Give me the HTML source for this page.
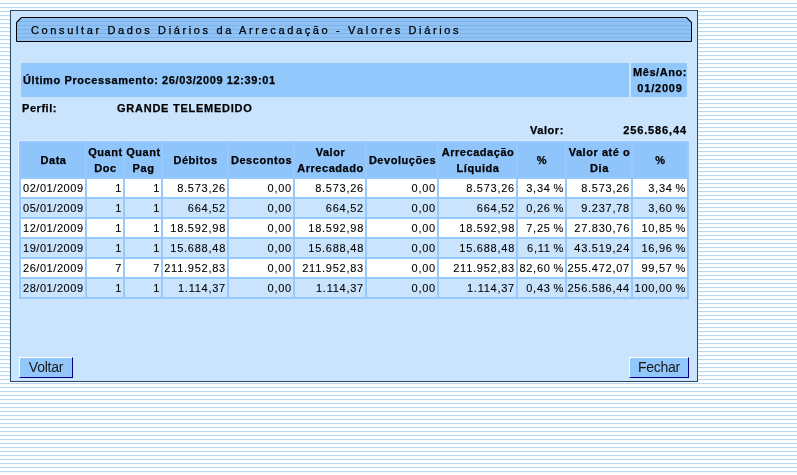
<!DOCTYPE html><html><head><meta charset="utf-8"><style>
*{margin:0;padding:0;box-sizing:border-box}
html,body{width:797px;height:475px;overflow:hidden}
body{position:relative;font-family:"Liberation Sans",sans-serif;font-size:11px;letter-spacing:0.75px;color:#000;
background:repeating-linear-gradient(to bottom,#f3f8fc 0,#f3f8fc 1px,#fff 1px,#fff 3px,#b6d8f0 3px,#b6d8f0 4px)}
#w{position:absolute;left:0;top:0;width:797px;height:475px;will-change:transform;-webkit-text-stroke:0.1px #000}
.a{position:absolute}
.t{position:absolute;white-space:nowrap;line-height:16px}
.b{font-weight:bold;letter-spacing:0.55px;-webkit-text-stroke:0.25px #000}
.c{position:absolute;overflow:hidden;white-space:nowrap;line-height:16px}
.r{text-align:right}
.m{text-align:center}

</style></head><body><div id="w">
<div class="a" style="left:10px;top:10px;width:688px;height:372px;background:#cae4fe;border:1px solid #2d4862"></div>
<svg class="a" style="left:15px;top:16px" width="678" height="27" viewBox="-1 -1 678 27">
<defs><pattern id="st" width="8" height="4" patternUnits="userSpaceOnUse"><rect width="8" height="4" fill="#8fc3f7"/><rect width="8" height="1" fill="#7fb1e3"/></pattern></defs>
<polygon points="0.5,5.5 5.5,0.5 670.5,0.5 675.5,5.5 675.5,24.5 0.5,24.5" fill="url(#st)" stroke="#000" stroke-width="1"/>
<path d="M0.6,5.4 L5.4,0.6 M670.6,0.6 L675.4,5.4" stroke="#000" stroke-width="1.3" fill="none"/>
</svg>
<div class="t" style="left:31px;top:25px;font-size:11px;line-height:11px;letter-spacing:2.63px;-webkit-text-stroke:0.25px #000">Consultar Dados Diários da Arrecadação - Valores Diários</div>
<div class="a" style="left:21px;top:63px;width:608px;height:34px;background:#92c7fc"></div>
<div class="a" style="left:631px;top:63px;width:56px;height:34px;background:#92c7fc"></div>
<div class="t b" style="left:23px;top:72px;letter-spacing:0.6px">Último Processamento: 26/03/2009 12:39:01</div>
<div class="t b m" style="left:632px;top:64px;width:56px">Mês/Ano:<br><span style="letter-spacing:0.8px">01/2009</span></div>
<div class="t b" style="left:22px;top:100px">Perfil:</div>
<div class="t b" style="left:117px;top:100px;letter-spacing:0.75px">GRANDE TELEMEDIDO</div>
<div class="t b" style="left:530px;top:122px">Valor:</div>
<div class="t b r" style="left:600px;top:122px;width:87px;letter-spacing:0.88px">256.586,44</div>
<div class="a" style="left:18px;top:140px;width:671px;height:159px;background:#d8ecff"></div>
<div class="a" style="left:19px;top:141px;width:670px;height:158px;background:#96cafe"></div>
<div class="c b m" style="left:21px;top:143px;width:64px;height:34px;background:#90c5fb;display:flex;align-items:center;justify-content:center;padding-left:1px"><div>Data</div></div>
<div class="c b m" style="left:87px;top:143px;width:36px;height:34px;background:#90c5fb;display:flex;align-items:center;justify-content:center;padding-left:1px"><div>Quant<br>Doc</div></div>
<div class="c b m" style="left:125px;top:143px;width:36px;height:34px;background:#90c5fb;display:flex;align-items:center;justify-content:center;padding-left:1px"><div>Quant<br>Pag</div></div>
<div class="c b m" style="left:163px;top:143px;width:64px;height:34px;background:#90c5fb;display:flex;align-items:center;justify-content:center;padding-left:1px"><div>Débitos</div></div>
<div class="c b m" style="left:229px;top:143px;width:64px;height:34px;background:#90c5fb;display:flex;align-items:center;justify-content:center;padding-left:1px"><div>Descontos</div></div>
<div class="c b m" style="left:295px;top:143px;width:70px;height:34px;background:#90c5fb;display:flex;align-items:center;justify-content:center;padding-left:1px"><div>Valor<br>Arrecadado</div></div>
<div class="c b m" style="left:367px;top:143px;width:70px;height:34px;background:#90c5fb;display:flex;align-items:center;justify-content:center;padding-left:1px"><div>Devoluções</div></div>
<div class="c b m" style="left:439px;top:143px;width:77px;height:34px;background:#90c5fb;display:flex;align-items:center;justify-content:center;padding-left:1px"><div>Arrecadação<br>Líquida</div></div>
<div class="c b m" style="left:518px;top:143px;width:47px;height:34px;background:#90c5fb;display:flex;align-items:center;justify-content:center;padding-left:1px"><div>%</div></div>
<div class="c b m" style="left:567px;top:143px;width:64px;height:34px;background:#90c5fb;display:flex;align-items:center;justify-content:center;padding-left:1px"><div>Valor até o<br>Dia</div></div>
<div class="c b m" style="left:633px;top:143px;width:54px;height:34px;background:#90c5fb;display:flex;align-items:center;justify-content:center;padding-left:1px"><div>%</div></div>
<div class="c" style="left:21px;top:179px;width:64px;height:18px;line-height:18px;background:#fff;padding-left:2px;letter-spacing:0.55px">02/01/2009</div>
<div class="c r" style="left:87px;top:179px;width:36px;height:18px;line-height:18px;background:#fff;padding-right:1px">1</div>
<div class="c r" style="left:125px;top:179px;width:36px;height:18px;line-height:18px;background:#fff;padding-right:1px">1</div>
<div class="c r" style="left:163px;top:179px;width:64px;height:18px;line-height:18px;background:#fff;padding-right:1px">8.573,26</div>
<div class="c r" style="left:229px;top:179px;width:64px;height:18px;line-height:18px;background:#fff;padding-right:1px">0,00</div>
<div class="c r" style="left:295px;top:179px;width:70px;height:18px;line-height:18px;background:#fff;padding-right:1px">8.573,26</div>
<div class="c r" style="left:367px;top:179px;width:70px;height:18px;line-height:18px;background:#fff;padding-right:1px">0,00</div>
<div class="c r" style="left:439px;top:179px;width:77px;height:18px;line-height:18px;background:#fff;padding-right:1px">8.573,26</div>
<div class="c r" style="left:518px;top:179px;width:47px;height:18px;line-height:18px;background:#fff;padding-right:1px;word-spacing:-1px">3,34 %</div>
<div class="c r" style="left:567px;top:179px;width:64px;height:18px;line-height:18px;background:#fff;padding-right:1px">8.573,26</div>
<div class="c r" style="left:633px;top:179px;width:54px;height:18px;line-height:18px;background:#fff;padding-right:1px;word-spacing:-1px">3,34 %</div>
<div class="c" style="left:21px;top:199px;width:64px;height:18px;line-height:18px;background:#cae4fe;padding-left:2px;letter-spacing:0.55px">05/01/2009</div>
<div class="c r" style="left:87px;top:199px;width:36px;height:18px;line-height:18px;background:#cae4fe;padding-right:1px">1</div>
<div class="c r" style="left:125px;top:199px;width:36px;height:18px;line-height:18px;background:#cae4fe;padding-right:1px">1</div>
<div class="c r" style="left:163px;top:199px;width:64px;height:18px;line-height:18px;background:#cae4fe;padding-right:1px">664,52</div>
<div class="c r" style="left:229px;top:199px;width:64px;height:18px;line-height:18px;background:#cae4fe;padding-right:1px">0,00</div>
<div class="c r" style="left:295px;top:199px;width:70px;height:18px;line-height:18px;background:#cae4fe;padding-right:1px">664,52</div>
<div class="c r" style="left:367px;top:199px;width:70px;height:18px;line-height:18px;background:#cae4fe;padding-right:1px">0,00</div>
<div class="c r" style="left:439px;top:199px;width:77px;height:18px;line-height:18px;background:#cae4fe;padding-right:1px">664,52</div>
<div class="c r" style="left:518px;top:199px;width:47px;height:18px;line-height:18px;background:#cae4fe;padding-right:1px;word-spacing:-1px">0,26 %</div>
<div class="c r" style="left:567px;top:199px;width:64px;height:18px;line-height:18px;background:#cae4fe;padding-right:1px">9.237,78</div>
<div class="c r" style="left:633px;top:199px;width:54px;height:18px;line-height:18px;background:#cae4fe;padding-right:1px;word-spacing:-1px">3,60 %</div>
<div class="c" style="left:21px;top:219px;width:64px;height:18px;line-height:18px;background:#fff;padding-left:2px;letter-spacing:0.55px">12/01/2009</div>
<div class="c r" style="left:87px;top:219px;width:36px;height:18px;line-height:18px;background:#fff;padding-right:1px">1</div>
<div class="c r" style="left:125px;top:219px;width:36px;height:18px;line-height:18px;background:#fff;padding-right:1px">1</div>
<div class="c r" style="left:163px;top:219px;width:64px;height:18px;line-height:18px;background:#fff;padding-right:1px">18.592,98</div>
<div class="c r" style="left:229px;top:219px;width:64px;height:18px;line-height:18px;background:#fff;padding-right:1px">0,00</div>
<div class="c r" style="left:295px;top:219px;width:70px;height:18px;line-height:18px;background:#fff;padding-right:1px">18.592,98</div>
<div class="c r" style="left:367px;top:219px;width:70px;height:18px;line-height:18px;background:#fff;padding-right:1px">0,00</div>
<div class="c r" style="left:439px;top:219px;width:77px;height:18px;line-height:18px;background:#fff;padding-right:1px">18.592,98</div>
<div class="c r" style="left:518px;top:219px;width:47px;height:18px;line-height:18px;background:#fff;padding-right:1px;word-spacing:-1px">7,25 %</div>
<div class="c r" style="left:567px;top:219px;width:64px;height:18px;line-height:18px;background:#fff;padding-right:1px">27.830,76</div>
<div class="c r" style="left:633px;top:219px;width:54px;height:18px;line-height:18px;background:#fff;padding-right:1px;word-spacing:-1px">10,85 %</div>
<div class="c" style="left:21px;top:239px;width:64px;height:18px;line-height:18px;background:#cae4fe;padding-left:2px;letter-spacing:0.55px">19/01/2009</div>
<div class="c r" style="left:87px;top:239px;width:36px;height:18px;line-height:18px;background:#cae4fe;padding-right:1px">1</div>
<div class="c r" style="left:125px;top:239px;width:36px;height:18px;line-height:18px;background:#cae4fe;padding-right:1px">1</div>
<div class="c r" style="left:163px;top:239px;width:64px;height:18px;line-height:18px;background:#cae4fe;padding-right:1px">15.688,48</div>
<div class="c r" style="left:229px;top:239px;width:64px;height:18px;line-height:18px;background:#cae4fe;padding-right:1px">0,00</div>
<div class="c r" style="left:295px;top:239px;width:70px;height:18px;line-height:18px;background:#cae4fe;padding-right:1px">15.688,48</div>
<div class="c r" style="left:367px;top:239px;width:70px;height:18px;line-height:18px;background:#cae4fe;padding-right:1px">0,00</div>
<div class="c r" style="left:439px;top:239px;width:77px;height:18px;line-height:18px;background:#cae4fe;padding-right:1px">15.688,48</div>
<div class="c r" style="left:518px;top:239px;width:47px;height:18px;line-height:18px;background:#cae4fe;padding-right:1px;word-spacing:-1px">6,11 %</div>
<div class="c r" style="left:567px;top:239px;width:64px;height:18px;line-height:18px;background:#cae4fe;padding-right:1px">43.519,24</div>
<div class="c r" style="left:633px;top:239px;width:54px;height:18px;line-height:18px;background:#cae4fe;padding-right:1px;word-spacing:-1px">16,96 %</div>
<div class="c" style="left:21px;top:259px;width:64px;height:18px;line-height:18px;background:#fff;padding-left:2px;letter-spacing:0.55px">26/01/2009</div>
<div class="c r" style="left:87px;top:259px;width:36px;height:18px;line-height:18px;background:#fff;padding-right:1px">7</div>
<div class="c r" style="left:125px;top:259px;width:36px;height:18px;line-height:18px;background:#fff;padding-right:1px">7</div>
<div class="c r" style="left:163px;top:259px;width:64px;height:18px;line-height:18px;background:#fff;padding-right:1px">211.952,83</div>
<div class="c r" style="left:229px;top:259px;width:64px;height:18px;line-height:18px;background:#fff;padding-right:1px">0,00</div>
<div class="c r" style="left:295px;top:259px;width:70px;height:18px;line-height:18px;background:#fff;padding-right:1px">211.952,83</div>
<div class="c r" style="left:367px;top:259px;width:70px;height:18px;line-height:18px;background:#fff;padding-right:1px">0,00</div>
<div class="c r" style="left:439px;top:259px;width:77px;height:18px;line-height:18px;background:#fff;padding-right:1px">211.952,83</div>
<div class="c r" style="left:518px;top:259px;width:47px;height:18px;line-height:18px;background:#fff;padding-right:1px;word-spacing:-1px">82,60 %</div>
<div class="c r" style="left:567px;top:259px;width:64px;height:18px;line-height:18px;background:#fff;padding-right:1px">255.472,07</div>
<div class="c r" style="left:633px;top:259px;width:54px;height:18px;line-height:18px;background:#fff;padding-right:1px;word-spacing:-1px">99,57 %</div>
<div class="c" style="left:21px;top:279px;width:64px;height:18px;line-height:18px;background:#cae4fe;padding-left:2px;letter-spacing:0.55px">28/01/2009</div>
<div class="c r" style="left:87px;top:279px;width:36px;height:18px;line-height:18px;background:#cae4fe;padding-right:1px">1</div>
<div class="c r" style="left:125px;top:279px;width:36px;height:18px;line-height:18px;background:#cae4fe;padding-right:1px">1</div>
<div class="c r" style="left:163px;top:279px;width:64px;height:18px;line-height:18px;background:#cae4fe;padding-right:1px">1.114,37</div>
<div class="c r" style="left:229px;top:279px;width:64px;height:18px;line-height:18px;background:#cae4fe;padding-right:1px">0,00</div>
<div class="c r" style="left:295px;top:279px;width:70px;height:18px;line-height:18px;background:#cae4fe;padding-right:1px">1.114,37</div>
<div class="c r" style="left:367px;top:279px;width:70px;height:18px;line-height:18px;background:#cae4fe;padding-right:1px">0,00</div>
<div class="c r" style="left:439px;top:279px;width:77px;height:18px;line-height:18px;background:#cae4fe;padding-right:1px">1.114,37</div>
<div class="c r" style="left:518px;top:279px;width:47px;height:18px;line-height:18px;background:#cae4fe;padding-right:1px;word-spacing:-1px">0,43 %</div>
<div class="c r" style="left:567px;top:279px;width:64px;height:18px;line-height:18px;background:#cae4fe;padding-right:1px">256.586,44</div>
<div class="c r" style="left:633px;top:279px;width:54px;height:18px;line-height:18px;background:#cae4fe;padding-right:1px;word-spacing:-1px">100,00 %</div>
<div class="a m" style="left:19px;top:357px;width:54px;height:21px;background:#92c7fc;border:1px solid;border-color:#fff #000080 #000080 #fff;font-size:14px;letter-spacing:-0.25px;line-height:19px;color:#181818;-webkit-text-stroke:0">Voltar</div>
<div class="a m" style="left:629px;top:357px;width:60px;height:21px;background:#92c7fc;border:1px solid;border-color:#fff #000080 #000080 #fff;font-size:14px;letter-spacing:-0.25px;line-height:19px;color:#181818;-webkit-text-stroke:0">Fechar</div>
</div></body></html>
